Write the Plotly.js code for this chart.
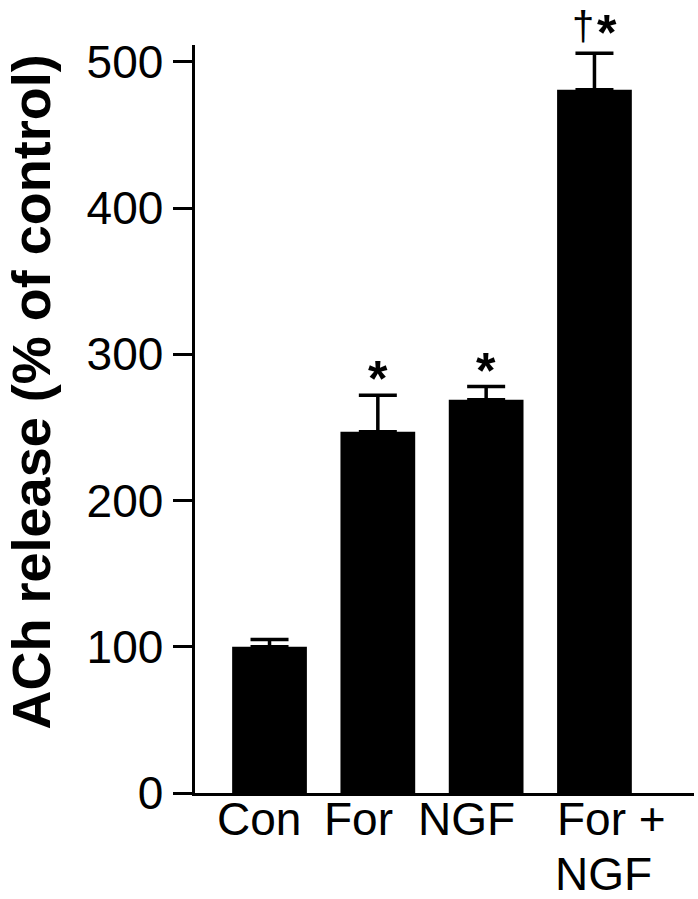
<!DOCTYPE html>
<html>
<head>
<meta charset="utf-8">
<script src="https://cdn.plot.ly/plotly-3.0.1.min.js"></script>
<style>html,body{margin:0;padding:0;background:#fff;}#chart{width:698px;height:899px;}</style>
</head>
<body>
<div id="chart"></div>
<script>
// Data
var categories = ["Con", "For", "NGF", "For + NGF"];
var categoryLabels = [["Con"], ["For"], ["NGF"], ["For +", "NGF"]];
var values = [100, 247, 269, 481];
var errors = [5, 25, 9, 25];
var significance = ["", "*", "*", "\u2020*"];
var yTicks = [0, 100, 200, 300, 400, 500];

var FONT = "Liberation Sans, Arial, Helvetica, sans-serif";

var trace = {
  type: "bar",
  x: categories,
  y: values,
  width: 0.69,
  marker: {color: "#000", line: {color: "#000", width: 0}},
  error_y: {
    type: "data",
    symmetric: false,
    array: errors,
    arrayminus: errors.map(function(){return 0;}),
    color: "#000",
    thickness: 3.5,
    width: 19
  },
  hoverinfo: "none"
};

var labelShift = [-55, -56, -70, -39];
var annotations = [];
categories.forEach(function(c, i) {
  categoryLabels[i].forEach(function(line, j) {
    annotations.push({
      xref: "x", yref: "paper", x: c, y: 0,
      xanchor: "left", yanchor: "top", align: "left",
      xshift: labelShift[i] - (j > 0 ? 2 : 0), yshift: 2 + 55 * -j,
      text: line, showarrow: false,
      font: {family: FONT, size: 46, color: "#000"}
    });
  });
  var marks = Array.from(significance[i]);
  var multi = marks.length > 1;
  marks.forEach(function(m, k) {
    var xs = multi ? (k === 0 ? -11.5 : 12.5) : 0;
    var isDagger = m === "\u2020";
    annotations.push({
      xref: "x", yref: "y", x: c, y: values[i] + errors[i],
      xanchor: "center",
      yanchor: multi ? "top" : "bottom",
      yshift: multi ? (isDagger ? 51 : 50) : -14,
      xshift: xs,
      text: isDagger ? m : "<b>" + m + "</b>", showarrow: false,
      font: {family: FONT, size: isDagger ? 40 : 50, color: "#000"}
    });
  });
});
annotations.push({
  xref: "paper", yref: "paper", x: -0.3287, y: 0.5368,
  xanchor: "center", yanchor: "middle", textangle: -90,
  text: "<b>ACh release (% of control)</b>", showarrow: false,
  font: {family: FONT, size: 54, color: "#000"}
});

var layout = {
  width: 698, height: 899,
  margin: {l: 195, r: 4, t: 45, b: 106, pad: 0},
  paper_bgcolor: "#fff", plot_bgcolor: "#fff",
  showlegend: false,
  xaxis: {
    type: "category",
    range: [-0.688, 3.919],
    showticklabels: false,
    ticks: "",
    showline: true, linecolor: "#000", linewidth: 3,
    showgrid: false, zeroline: false, fixedrange: true
  },
  yaxis: {
    range: [0, 511.6],
    tickvals: yTicks,
    ticktext: yTicks.map(String),
    ticks: "outside", ticklen: 19, tickwidth: 3, tickcolor: "#000",
    showline: true, linecolor: "#000", linewidth: 3.5,
    showgrid: false, zeroline: false,
    tickfont: {family: FONT, size: 46, color: "#000"},
    fixedrange: true
  },
  annotations: annotations
};

Plotly.newPlot("chart", [trace], layout, {displayModeBar: false, staticPlot: true});
</script>
</body>
</html>
